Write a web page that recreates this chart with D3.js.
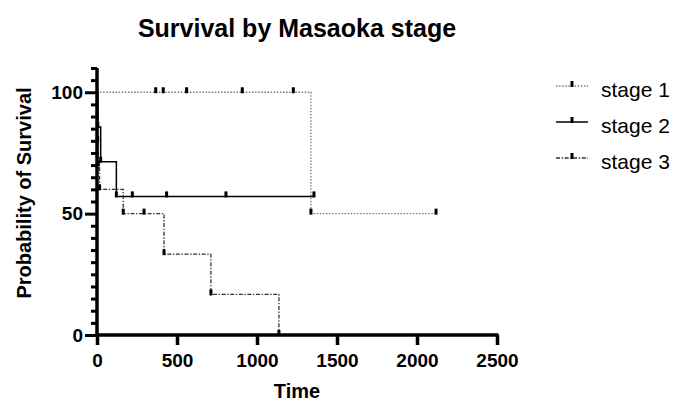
<!DOCTYPE html>
<html>
<head>
<meta charset="utf-8">
<script src="https://cdnjs.cloudflare.com/ajax/libs/d3/7.8.5/d3.min.js"></script>
<style>
  body { margin: 0; background: #fff; }
  svg { font-family: Arial, "Liberation Sans", sans-serif; }
</style>
</head>
<body>
<svg></svg>
<script>
let width = 678, height = 403;

// series (time, % surviving); markers at every point after t=0
const stage1Time = [0, 367, 414, 560, 908, 1227, 1337, 2119];
const stage1Surv = [100, 100, 100, 100, 100, 100, 50, 50];
const stage2Time = [0, 5, 23, 121, 221, 435, 806, 1356];
const stage2Surv = [100, 85.7, 71.4, 57.1, 57.1, 57.1, 57.1, 57.1];
const stage3Time = [0, 2, 4, 8, 16, 164, 294, 419, 712, 1137];
const stage3Surv = [100, 90, 80, 70, 60, 50, 50, 33.3, 16.7, 0];

const seriesNames = ["stage 1", "stage 2", "stage 3"];
const xTicks = [0, 500, 1000, 1500, 2000, 2500];
const yTicks = d3.range(0, 111, 5);
const yLabels = [0, 50, 100];

let svg = d3.select("svg")
    .attr("width", width)
    .attr("height", height);

let x = d3.scaleLinear().domain([0, 2500]).range([97, 497]);
let y = d3.scaleLinear().domain([0, 110]).range([335, 68]);

let series = [
    {name: seriesNames[0], pts: stage1Time.map((t, i) => [t, stage1Surv[i]]),
     stroke: "#7a7a7a", width: 1.3, dash: "1.5,1.6"},
    {name: seriesNames[1], pts: stage2Time.map((t, i) => [t, stage2Surv[i]]),
     stroke: "#000", width: 1.5, dash: null},
    {name: seriesNames[2], pts: stage3Time.map((t, i) => [t, stage3Surv[i]]),
     stroke: "#333", width: 1.3, dash: "4,1.6,1.4,1.6"}
];

let line = d3.line()
    .x(d => x(d[0]))
    .y(d => y(d[1]))
    .curve(d3.curveStepAfter);

// curves
let curves = svg.append("g").attr("id", "curves");
series.forEach(s => {
    curves.append("path")
        .datum(s.pts)
        .attr("d", line)
        .attr("fill", "none")
        .attr("stroke", s.stroke)
        .attr("stroke-width", s.width)
        .attr("stroke-dasharray", s.dash);
    curves.append("g")
        .selectAll("rect")
        .data(s.pts.slice(1))
        .enter()
        .append("rect")
        .attr("x", d => x(d[0]) - 1.5)
        .attr("y", d => y(d[1]) - 5)
        .attr("width", 3)
        .attr("height", 6)
        .attr("fill", "#000");
});

const tickFont = "Arial, 'Liberation Sans', sans-serif";

// x axis
let xAxis = svg.append("g")
    .attr("transform", "translate(0," + y(0) + ")")
    .call(d3.axisBottom(x).tickValues(xTicks).tickSize(10).tickPadding(9).tickSizeOuter(0)
        .tickFormat(d3.format("d")));
xAxis.select(".domain").attr("stroke-width", 3.5).attr("d", "M" + (x(0) - 2) + ",0H" + (x(2500) + 1.5));
xAxis.selectAll(".tick line").attr("stroke-width", 3.5);
xAxis.selectAll("text")
    .attr("font-size", 19)
    .attr("font-weight", "bold")
    .attr("font-family", tickFont)
    .attr("fill", "#000");

// y axis
let yAxis = svg.append("g")
    .attr("transform", "translate(" + x(0) + ",0)")
    .call(d3.axisLeft(y).tickValues(yTicks).tickSize(5).tickSizeOuter(0)
        .tickFormat(d => yLabels.includes(d) ? d : ""));
yAxis.select(".domain").attr("stroke-width", 3.5).attr("d", "M0," + y(110) + "V" + (y(0) + 1.5));
yAxis.selectAll(".tick line")
    .attr("stroke-width", 3)
    .attr("x2", d => yLabels.includes(d) ? -12 : -6);
yAxis.selectAll("text")
    .attr("x", -14)
    .attr("font-size", 19)
    .attr("font-weight", "bold")
    .attr("font-family", tickFont)
    .attr("fill", "#000");

// titles
svg.append("text")
    .attr("x", 297).attr("y", 37)
    .attr("text-anchor", "middle")
    .attr("font-size", 25).attr("font-weight", "bold")
    .text("Survival by Masaoka stage");

svg.append("text")
    .attr("x", 297).attr("y", 398)
    .attr("text-anchor", "middle")
    .attr("font-size", 20).attr("font-weight", "bold")
    .text("Time");

svg.append("text")
    .attr("transform", "rotate(-90)")
    .attr("x", -193).attr("y", 31)
    .attr("text-anchor", "middle")
    .attr("font-size", 20).attr("font-weight", "bold")
    .text("Probability of Survival");

// legend
let legend = svg.append("g").attr("id", "legend")
    .selectAll("g")
    .data(series)
    .enter()
    .append("g")
    .attr("transform", (d, i) => "translate(0," + (86 + i * 36) + ")");
legend.append("line")
    .attr("x1", 556).attr("x2", 588)
    .attr("stroke", d => d.stroke)
    .attr("stroke-width", d => d.width)
    .attr("stroke-dasharray", d => d.dash);
legend.append("rect")
    .attr("x", 570.5).attr("y", -5)
    .attr("width", 3).attr("height", 6)
    .attr("fill", "#000");
legend.append("text")
    .attr("x", 601).attr("y", 11)
    .attr("font-size", 21)
    .text(d => d.name);
</script>
</body>
</html>
